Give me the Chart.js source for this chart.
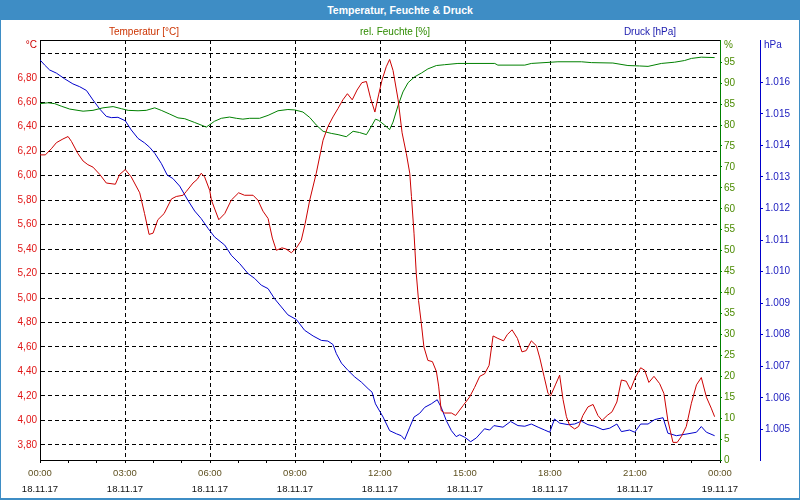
<!DOCTYPE html>
<html>
<head>
<meta charset="utf-8">
<title>Temperatur, Feuchte & Druck</title>
<script src="https://cdn.jsdelivr.net/npm/chart.js"></script>
<style>
  html, body { margin: 0; padding: 0; background: #fff; }
  #wrap { position: relative; width: 800px; height: 500px; overflow: hidden; font-family: "Liberation Sans", Arial, sans-serif; }
  #chart { position: absolute; left: 0; top: 0; }
  #frame { position: absolute; left: 0; top: 0; width: 798px; height: 498px; border: 1px solid #3e8dc5; border-bottom-width: 2px; border-top: none; pointer-events: none; }
  #titlebar { position: absolute; left: 0; top: 0; width: 800px; height: 20px; background: #3e8dc5; color: #fff; font-weight: bold; font-size: 10.5px; line-height: 20px; text-align: center; }
  .lbl { position: absolute; font-size: 10px; white-space: nowrap; transform: translateY(-50%); }
  .mid { transform: translate(-50%, -50%); }
</style>
</head>
<body>
<div id="wrap">
  <canvas id="chart" width="800" height="500"></canvas>
  <div id="titlebar">Temperatur, Feuchte &amp; Druck</div>
  <div class="lbl mid" style="left:144px; top:31px; color:#cc3300;">Temperatur [°C]</div>
  <div class="lbl mid" style="left:395px; top:31px; color:#2e8b00;">rel. Feuchte [%]</div>
  <div class="lbl mid" style="left:650px; top:31px; color:#2020b0;">Druck [hPa]</div>
  <div class="lbl" style="right:763px; top:44px; color:#cc0000;">°C</div>
  <div class="lbl" style="left:724px; top:44px; color:#4a8a00;">%</div>
  <div class="lbl" style="left:764px; top:44px; color:#2020c0;">hPa</div>
  <div id="frame"></div>
</div>
<script>
// hours since 18.11.17 00:00
const tempTime = [0.00,0.19,0.40,0.58,0.81,0.99,1.11,1.34,1.52,1.69,
  1.87,2.11,2.34,2.66,2.81,3.01,3.22,3.52,3.69,3.85,
  3.99,4.16,4.38,4.64,4.81,5.05,5.16,5.40,5.55,5.69,
  5.81,5.99,6.05,6.31,6.52,6.75,7.01,7.22,7.52,7.69,
  7.87,8.05,8.20,8.34,8.54,8.69,8.87,9.05,9.22,9.36,
  9.52,9.75,9.99,10.16,10.34,10.52,10.69,10.85,11.02,11.19,
  11.36,11.52,11.67,11.82,11.95,12.07,12.22,12.34,12.46,12.64,
  12.78,12.93,13.05,13.11,13.20,13.28,13.36,13.46,13.55,13.69,
  13.85,13.99,14.07,14.16,14.28,14.52,14.67,14.93,15.16,15.34,
  15.52,15.69,15.85,15.99,16.16,16.36,16.49,16.66,16.85,17.01,
  17.16,17.34,17.52,17.64,17.79,17.93,18.02,18.19,18.34,18.46,
  18.58,18.69,18.87,19.01,19.16,19.34,19.52,19.69,19.84,20.02,
  20.19,20.36,20.52,20.69,20.84,21.01,21.20,21.34,21.49,21.67,
  21.87,22.02,22.16,22.34,22.49,22.64,22.81,22.99,23.17,23.34,
  23.52,23.69,23.81];
const tempValues = [6.17,6.17,6.22,6.27,6.30,6.32,6.28,6.18,6.12,6.09,
  6.07,6.01,5.94,5.93,6.01,6.05,5.99,5.86,5.69,5.52,
  5.53,5.64,5.69,5.81,5.83,5.84,5.87,5.94,5.97,6.02,
  5.99,5.88,5.80,5.64,5.69,5.80,5.86,5.84,5.84,5.80,
  5.71,5.65,5.49,5.39,5.41,5.40,5.37,5.41,5.47,5.61,
  5.80,6.02,6.29,6.40,6.48,6.55,6.62,6.67,6.62,6.70,
  6.76,6.77,6.63,6.52,6.66,6.78,6.89,6.95,6.86,6.62,
  6.35,6.18,6.02,5.83,5.53,5.20,4.98,4.79,4.60,4.49,
  4.48,4.40,4.28,4.08,4.06,4.06,4.04,4.12,4.19,4.27,
  4.36,4.38,4.45,4.69,4.67,4.65,4.70,4.74,4.67,4.56,
  4.57,4.65,4.61,4.51,4.36,4.22,4.20,4.29,4.37,4.17,
  4.03,3.96,3.93,3.95,4.04,4.11,4.13,4.04,4.00,4.04,
  4.07,4.15,4.33,4.32,4.25,4.35,4.43,4.41,4.31,4.36,
  4.30,4.22,4.00,3.82,3.82,3.87,3.95,4.14,4.29,4.35,
  4.19,4.10,4.03];

const humTime = [0.00,0.28,0.52,0.75,1.05,1.52,1.87,2.22,2.58,2.87,
  3.11,3.46,3.75,4.05,4.28,4.58,4.87,5.11,5.46,5.87,
  6.16,6.40,6.69,6.93,7.16,7.40,7.75,8.05,8.40,8.75,
  8.99,9.28,9.52,9.75,9.99,10.28,10.52,10.81,11.05,11.28,
  11.52,11.69,11.84,11.95,12.16,12.34,12.46,12.64,12.81,12.99,
  13.22,13.46,13.69,13.99,14.28,14.75,16.05,16.16,17.11,17.34,
  18.28,19.11,19.46,20.22,20.75,21.16,21.46,21.93,22.40,22.75,
  22.99,23.34,23.81];
const humValues = [85.1,85.3,85.1,84.5,83.8,83.3,83.5,84.1,84.4,83.9,
  83.5,83.4,83.5,84.1,83.5,82.6,81.7,81.5,80.6,79.5,
  80.9,81.6,81.9,81.6,81.4,81.6,81.6,82.3,83.4,83.7,
  83.6,83.1,81.8,80.0,78.5,78.0,77.7,77.2,78.5,78.2,
  77.7,79.6,81.4,81.1,80.0,78.9,80.7,84.7,87.9,90.1,
  91.5,92.4,93.4,94.2,94.4,94.7,94.7,94.3,94.3,94.7,
  95.1,95.1,94.9,94.8,94.2,94.1,94.0,94.7,95.0,95.4,
  95.9,96.2,96.1];

const presTime = [0.00,0.16,0.34,0.58,0.87,1.16,1.40,1.64,1.87,2.11,
  2.34,2.52,2.75,3.01,3.22,3.46,3.69,3.87,4.05,4.28,
  4.49,4.69,4.93,5.22,5.46,5.69,5.93,6.16,6.52,6.75,
  7.05,7.34,7.58,7.81,8.05,8.28,8.52,8.75,9.05,9.34,
  9.64,9.93,10.16,10.34,10.46,10.64,10.87,11.11,11.34,11.58,
  11.72,11.84,12.11,12.34,12.58,12.75,12.87,13.05,13.20,13.40,
  13.58,13.81,14.02,14.16,14.34,14.52,14.69,14.81,14.99,15.20,
  15.40,15.69,15.87,16.02,16.34,16.61,16.87,17.11,17.34,17.58,
  17.81,17.99,18.16,18.34,18.64,18.87,19.11,19.34,19.58,19.87,
  20.11,20.36,20.52,20.81,20.99,21.20,21.46,21.69,21.99,22.16,
  22.46,22.87,23.17,23.34,23.52,23.81];
const presValues = [1016.71,1016.55,1016.39,1016.29,1016.11,1015.95,1015.86,1015.74,1015.44,1015.15,
  1014.92,1014.88,1014.89,1014.78,1014.49,1014.22,1014.08,1013.94,1013.75,1013.43,
  1013.06,1012.95,1012.71,1012.26,1011.92,1011.68,1011.37,1011.10,1010.84,1010.52,
  1010.25,1009.94,1009.78,1009.57,1009.46,1009.14,1008.88,1008.63,1008.48,1008.14,
  1007.96,1007.82,1007.80,1007.69,1007.40,1007.10,1006.87,1006.66,1006.50,1006.29,
  1006.18,1005.81,1005.39,1004.96,1004.86,1004.80,1004.68,1005.07,1005.39,1005.51,
  1005.70,1005.81,1005.94,1005.70,1005.28,1004.96,1004.77,1004.83,1004.75,1004.61,
  1004.73,1005.02,1004.98,1005.12,1005.07,1005.25,1005.12,1005.10,1005.17,1005.07,
  1004.98,1004.91,1005.33,1005.20,1005.15,1005.17,1005.26,1005.15,1005.10,1004.99,
  1005.04,1005.17,1004.93,1004.98,1004.91,1005.17,1005.17,1005.31,1005.37,1004.88,
  1004.80,1004.86,1004.91,1005.09,1004.91,1004.80];

// axis ticks and labels
const hourTicks = [0,1,2,3,4,5,6,7,8,9,10,11,12,13,14,15,16,17,18,19,20,21,22,23,24];
const labelHours = [0,3,6,9,12,15,18,21,24];
const timeLabels = ['00:00','03:00','06:00','09:00','12:00','15:00','18:00','21:00','00:00'];
const dateLabels = ['18.11.17','18.11.17','18.11.17','18.11.17','18.11.17','18.11.17','18.11.17','18.11.17','19.11.17'];
const tempTicks = [3.8,4.0,4.2,4.4,4.6,4.8,5.0,5.2,5.4,5.6,5.8,6.0,6.2,6.4,6.6,6.8,7.0];
const tempLabelMax = 6.8; // the top grid line (7,00) carries no label
const humTicks = [0,5,10,15,20,25,30,35,40,45,50,55,60,65,70,75,80,85,90,95];
const presTicks = [1005,1006,1007,1008,1009,1010,1011,1012,1013,1014,1015,1016];

const points = (xs, ys) => xs.map((x, i) => ({x: x, y: ys[i]}));
const setTicks = arr => scale => { scale.ticks = arr.map(v => ({value: v})); };
const hourLabel = list => v => {
  const i = labelHours.indexOf(v);
  return i < 0 ? '' : list[i];
};

Chart.defaults.font.family = '"Liberation Sans", Arial, sans-serif';
Chart.defaults.font.size = 10;

// black line along the top of the plot
const topLine = {
  id: 'topLine',
  beforeDatasetsDraw(chart) {
    const {ctx, chartArea} = chart;
    ctx.save();
    ctx.strokeStyle = '#000';
    ctx.lineWidth = 1;
    ctx.beginPath();
    ctx.moveTo(chartArea.left, Math.round(chartArea.top) + 0.5);
    ctx.lineTo(chartArea.right, Math.round(chartArea.top) + 0.5);
    ctx.stroke();
    ctx.restore();
  }
};

new Chart(document.getElementById('chart'), {
  type: 'line',
  data: {
    datasets: [
      { label: 'Temperatur [°C]', data: points(tempTime, tempValues), yAxisID: 'yT', borderColor: '#cc0000' },
      { label: 'rel. Feuchte [%]', data: points(humTime, humValues), yAxisID: 'yH', borderColor: '#008000' },
      { label: 'Druck [hPa]', data: points(presTime, presValues), yAxisID: 'yP', borderColor: '#0000cc' }
    ]
  },
  options: {
    responsive: false,
    animation: false,
    layout: { padding: { top: 40 } },
    elements: { point: { radius: 0 }, line: { borderWidth: 1, tension: 0 } },
    plugins: { legend: { display: false }, tooltip: { enabled: false } },
    scales: {
      x: {
        type: 'linear', position: 'bottom', min: 0, max: 24,
        afterBuildTicks: setTicks(hourTicks),
        afterFit: s => { s.height = 21; },
        grid: {
          color: c => (c.tick && c.tick.value % 3 === 0 && c.tick.value > 0 && c.tick.value < 24) ? '#000' : 'rgba(0,0,0,0)',
          tickColor: '#000', tickLength: 3, lineWidth: 1
        },
        border: { color: '#000', dash: [4, 3] },
        ticks: { autoSkip: false, maxRotation: 0, padding: 3, color: '#5e5020', font: { size: 9.5, lineHeight: '14px' }, callback: hourLabel(timeLabels) }
      },
      xd: {
        type: 'linear', position: 'bottom', min: 0, max: 24,
        afterBuildTicks: setTicks(hourTicks),
        afterFit: s => { s.height = 19; },
        grid: { display: false, drawTicks: false },
        border: { display: false },
        ticks: { autoSkip: false, maxRotation: 0, padding: 1, color: '#111', font: { size: 9.5, lineHeight: '14px' }, callback: hourLabel(dateLabels) }
      },
      yT: {
        position: 'left', min: 3.676, max: 7.109,
        afterBuildTicks: setTicks(tempTicks),
        afterFit: s => { s.width = 40; },
        grid: { color: '#000', drawTicks: false },
        border: { color: '#000', dash: [4, 3] },
        ticks: { padding: 3, color: '#e01515', callback: v => v > tempLabelMax + 0.01 ? '' : v.toFixed(2).replace('.', ',') }
      },
      yH: {
        position: 'right', min: 0, max: 100.3,
        afterBuildTicks: setTicks(humTicks),
        afterFit: s => { s.width = 40; },
        grid: { drawOnChartArea: false, tickLength: 2, tickColor: '#008000' },
        border: { color: '#008000' },
        ticks: { padding: 2, color: '#4a8a00' }
      },
      yP: {
        position: 'right', min: 1004.03, max: 1017.34,
        afterBuildTicks: setTicks(presTicks),
        afterFit: s => { s.width = 40; },
        grid: { drawOnChartArea: false, tickLength: 3, tickColor: '#0000cc' },
        border: { color: '#0000cc' },
        ticks: { padding: 2, color: '#2020c0', callback: v => Math.floor(v / 1000) + '.' + String(v % 1000).padStart(3, '0') }
      }
    }
  },
  plugins: [topLine]
});
</script>
</body>
</html>
